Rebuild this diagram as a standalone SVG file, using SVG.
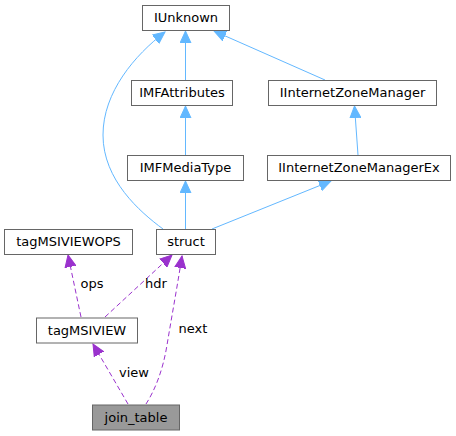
<svg xmlns="http://www.w3.org/2000/svg" width="456" height="436" viewBox="0 0 456 436">
<defs>
<style>
.node rect{fill:#ffffff;stroke:#666666;stroke-width:1}
#join_table rect{fill:#999999}
text{font-family:"DejaVu Sans","Liberation Sans",sans-serif;font-size:13px;fill:#000000;text-anchor:middle}
.inh{fill:none;stroke:#63b8ff;stroke-width:1;marker-end:url(#ab)}
.use{fill:none;stroke:#9a32cd;stroke-width:1;stroke-dasharray:5,3;marker-end:url(#ap)}
</style>
<marker id="ab" markerUnits="userSpaceOnUse" markerWidth="13" markerHeight="12" refX="12" refY="6" orient="auto" viewBox="0 0 13 12"><path d="M0,0.5 L12,6 L0,11.5 z" fill="#63b8ff" stroke="#63b8ff"/></marker>
<marker id="ap" markerUnits="userSpaceOnUse" markerWidth="13" markerHeight="12" refX="12" refY="6" orient="auto" viewBox="0 0 13 12"><path d="M0,0.5 L12,6 L0,11.5 z" fill="#9a32cd" stroke="#9a32cd"/></marker>
</defs>
<rect width="456" height="436" fill="#ffffff"/>
<g id="connectors">
<path class="inh" d="M185.5,80 L185.5,31"/>
<path class="inh" d="M185.5,155 L185.5,106"/>
<path class="inh" d="M185.5,229 L185.5,181"/>
<path class="inh" d="M163,229 C140,212 103,180 103,135 C103,92 135,55 165,32"/>
<path class="inh" d="M325,80 L214,31"/>
<path class="inh" d="M358,155 L354.5,106"/>
<path class="inh" d="M212,229 L331,181"/>
<path class="use" d="M81,317 L68,255"/>
<text x="92" y="288">ops</text>
<path class="use" d="M105,317 L172,255"/>
<text x="156" y="288">hdr</text>
<path class="use" d="M128,404 L93,344"/>
<text x="134" y="377">view</text>
<path class="use" d="M146,404 C155,390 163,370 167,345 C172,315 178,282 182,256"/>
<text x="193" y="333">next</text>
</g>
<g id="IUnknown" class="node"><rect x="142.5" y="5.5" width="87" height="25"/><text x="186" y="22">IUnknown</text></g>
<g id="IMFAttributes" class="node"><rect x="131.5" y="80.5" width="101" height="25"/><text x="182" y="97">IMFAttributes</text></g>
<g id="IInternetZoneManager" class="node"><rect x="268.5" y="80.5" width="168" height="25"/><text x="352.5" y="97">IInternetZoneManager</text></g>
<g id="IMFMediaType" class="node"><rect x="127.5" y="155.5" width="116" height="25"/><text x="185.5" y="172">IMFMediaType</text></g>
<g id="IInternetZoneManagerEx" class="node"><rect x="267.5" y="155.5" width="183" height="25"/><text x="359" y="172">IInternetZoneManagerEx</text></g>
<g id="struct" class="node"><rect x="156.5" y="229.5" width="59" height="25"/><text x="186" y="246">struct</text></g>
<g id="tagMSIVIEWOPS" class="node"><rect x="4.5" y="229.5" width="128" height="25"/><text x="68.5" y="246">tagMSIVIEWOPS</text></g>
<g id="tagMSIVIEW" class="node"><rect x="36.5" y="318" width="101" height="25"/><text x="87" y="334.5">tagMSIVIEW</text></g>
<g id="join_table" class="node"><rect x="92.5" y="405" width="87" height="25"/><text x="136" y="421.5">join_table</text></g>
</svg>
